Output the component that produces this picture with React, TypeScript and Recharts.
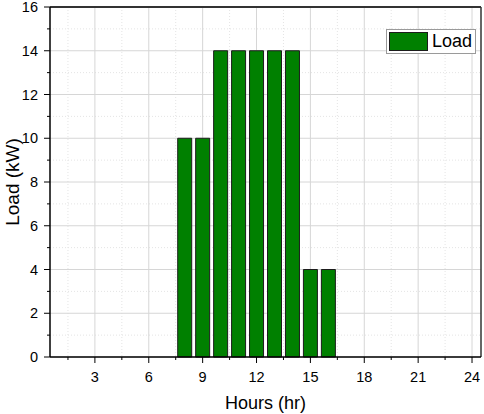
import React from 'react';
import { BarChart, Bar, XAxis, YAxis, CartesianGrid, ReferenceLine } from 'recharts';

const hours = [1, 2, 3, 4, 5, 6, 7, 8, 9, 10, 11, 12, 13, 14, 15, 16, 17, 18, 19, 20, 21, 22, 23, 24];
const loads = [0, 0, 0, 0, 0, 0, 0, 10, 10, 14, 14, 14, 14, 14, 4, 4, 0, 0, 0, 0, 0, 0, 0, 0];
const majorX = [3, 6, 9, 12, 15, 18, 21, 24];
const minorX = [1.5, 4.5, 7.5, 10.5, 13.5, 16.5, 19.5, 22.5];
const majorY = [0, 2, 4, 6, 8, 10, 12, 14, 16];
const minorY = [1, 3, 5, 7, 9, 11, 13, 15];
const xDomain = [0.5, 24.5];
const yDomain = [0, 16];

const data = hours.map((h, i) => ({ hour: h, load: loads[i] }));
const xTicks = [...majorX, ...minorX].sort((a, b) => a - b);
const yTicks = [...majorY, ...minorY].sort((a, b) => a - b);
const FONT = '"Liberation Sans", Arial, sans-serif';

const XTick = (props: any) => {
  const { x, y, payload } = props;
  const major = majorX.includes(payload.value);
  return (
    <g>
      <line x1={x} x2={x} y1={y} y2={y + (major ? 6 : 3)} stroke="#000" strokeWidth={1} />
      {major && (
        <text x={x} y={y + 25} textAnchor="middle" fontSize={14.5} fill="#000" fontFamily={FONT}>
          {payload.value}
        </text>
      )}
    </g>
  );
};

const YTick = (props: any) => {
  const { x, y, payload } = props;
  const major = majorY.includes(payload.value);
  return (
    <g>
      <line x1={x} x2={x - (major ? 6 : 3)} y1={y} y2={y} stroke="#000" strokeWidth={1} />
      {major && (
        <text x={x - 12} y={y + 5} textAnchor="end" fontSize={14.5} fill="#000" fontFamily={FONT}>
          {payload.value}
        </text>
      )}
    </g>
  );
};

export default function App() {
  return (
    <div style={{ position: 'absolute', left: 0, top: 0, width: 484, height: 414, background: '#fff', fontFamily: FONT }}>
      <BarChart
        width={484}
        height={414}
        data={data}
        margin={{ top: 7, right: 3, left: 0, bottom: 0 }}
        barSize={14}
      >
        <CartesianGrid
          stroke="#e4e4e4"
          strokeDasharray="1 2"
          verticalValues={minorX}
          horizontalValues={minorY}
        />
        <CartesianGrid stroke="#d6d6d6" verticalValues={majorX} horizontalValues={majorY} />
        <XAxis
          dataKey="hour"
          type="number"
          domain={xDomain}
          ticks={xTicks}
          interval={0}
          allowDecimals
          height={57}
          tickSize={0}
          tickMargin={0}
          tickLine={false}
          axisLine={{ stroke: '#000', strokeWidth: 1.5 }}
          tick={<XTick />}
          label={{ value: 'Hours (hr)', position: 'insideBottom', offset: 5, fontSize: 18, fill: '#000', fontFamily: FONT }}
        />
        <YAxis
          type="number"
          domain={yDomain}
          ticks={yTicks}
          interval={0}
          width={50}
          tickSize={0}
          tickMargin={0}
          tickLine={false}
          axisLine={{ stroke: '#000', strokeWidth: 1.5 }}
          tick={<YTick />}
          label={{ value: 'Load (kW)', angle: -90, position: 'insideLeft', offset: 12, fontSize: 19, fill: '#000', fontFamily: FONT, style: { textAnchor: 'middle' } }}
        />
        <ReferenceLine y={16} stroke="#333" strokeWidth={2} />
        <ReferenceLine x={24.5} stroke="#333" strokeWidth={1.5} />
        <Bar dataKey="load" name="Load" fill="#008000" stroke="#1c1c1c" strokeWidth={1} isAnimationActive={false} />
      </BarChart>
      <div
        style={{
          position: 'absolute',
          left: 386,
          top: 29,
          width: 88,
          height: 23,
          border: '1px solid #9a9a9a',
          background: '#fff',
          display: 'flex',
          alignItems: 'center',
        }}
      >
        <div style={{ width: 39, height: 19, marginLeft: 2, background: '#008000', border: '1px solid #1c1c1c', boxSizing: 'border-box' }} />
        <span style={{ marginLeft: 4, fontSize: 18, color: '#000', fontFamily: FONT }}>Load</span>
      </div>
    </div>
  );
}
